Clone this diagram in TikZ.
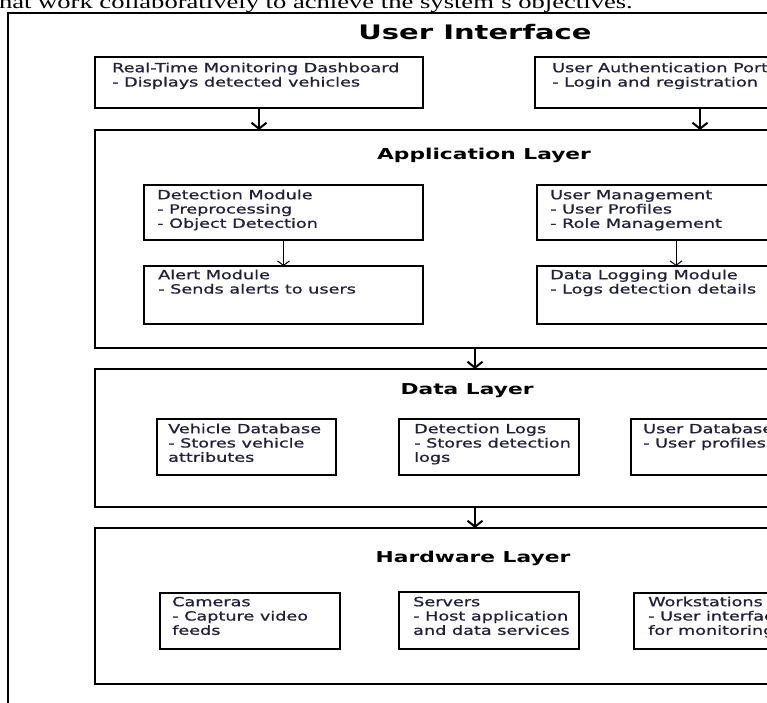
\documentclass[tikz,border=0pt]{standalone}
\usepackage{fontspec}
\setmainfont{DejaVu Sans}[FakeStretch=1.4, FakeBold=1]
\newfontfamily\headfont{DejaVu Sans}[FakeStretch=1.45]
\newfontfamily\prosefont{Liberation Serif}[FakeStretch=1.4]
\usetikzlibrary{arrows.meta,calc}
\definecolor{ink}{RGB}{32,32,58}
% invisible strut: fixes the top of a text block 10pt above its first baseline
\newcommand\capstrut{\rule{0pt}{10pt}}

\begin{document}
\begin{tikzpicture}[x=1pt,y=-1pt,
  outerframe/.style={draw, line width=2.4pt, anchor=north west, inner sep=0pt, outer sep=0pt},
  layerbox/.style={draw, line width=2.2pt, anchor=north west, inner sep=0pt, outer sep=0pt, minimum width=760pt},
  topbox/.style={draw, line width=2pt, anchor=north west, inner sep=0pt, outer sep=0pt, minimum height=51pt},
  module/.style={draw, line width=1.2pt, anchor=north west, inner sep=0pt, outer sep=0pt},
  boxtext/.style={anchor=north west, align=left, inner sep=0pt, text=ink, font=\fontsize{12.6pt}{14.3pt}\selectfont},
  layertitle/.style={anchor=base, inner sep=0pt, font=\headfont\bfseries\fontsize{15pt}{18pt}\selectfont},
  bigflow/.style={line width=2pt, -{Straight Barb[length=6pt,width=15pt]}},
  smallflow/.style={line width=1pt, -{Straight Barb[length=4.5pt,width=12pt]}},
]
\useasboundingbox (0,0) rectangle (767,702);
\clip (0,0) rectangle (767,702);

% line of running text above the figure
\node[anchor=base east, inner sep=0pt, font=\prosefont\fontsize{19pt}{22pt}\selectfont] (intro) at (633,8)
  {that work collaboratively to achieve the system’s objectives.};

% outer frame
\node[outerframe, minimum width=900pt, minimum height=800pt] (outer) at (8,13) {};
\node[anchor=base, inner sep=0pt, font=\headfont\bfseries\fontsize{20pt}{24pt}\selectfont] (uititle) at (475,39) {User Interface};

% user interface
\node[topbox, minimum width=328pt] (dash) at (95,57) {};
\node[boxtext] (dash-t) at (112,62) {\capstrut Real-Time Monitoring Dashboard\\- Displays detected vehicles};
\node[topbox, minimum width=330pt] (uap) at (535,57) {};
\node[boxtext] (uap-t) at (552,62) {\capstrut User Authentication Portal\\- Login and registration};

% application layer
\node[layerbox, minimum height=218pt] (app) at (95,130) {};
\node[layertitle] (app-title) at (484,159) {Application Layer};
\node[module, minimum width=279pt, minimum height=55pt] (det) at (144,185) {};
\node[boxtext] (det-t) at (157,189) {\capstrut Detection Module\\- Preprocessing\\- Object Detection};
\node[module, minimum width=279pt, minimum height=58pt] (alert) at (144,266) {};
\node[boxtext] (alert-t) at (158,269) {\capstrut Alert Module\\- Sends alerts to users};
\node[module, minimum width=278pt, minimum height=55pt] (users) at (537,185) {};
\node[boxtext] (users-t) at (550,189) {\capstrut User Management\\- User Profiles\\- Role Management};
\node[module, minimum width=278pt, minimum height=58pt] (logging) at (537,266) {};
\node[boxtext] (logging-t) at (550,269) {\capstrut Data Logging Module\\- Logs detection details};

% data layer
\node[layerbox, minimum height=138pt] (data) at (95,369) {};
\node[layertitle] (data-title) at (467,394) {Data Layer};
\node[module, minimum width=179pt, minimum height=56pt] (vdb) at (157,419) {};
\node[boxtext] (vdb-t) at (168,423) {\capstrut Vehicle Database\\- Stores vehicle\\attributes};
\node[module, minimum width=180pt, minimum height=56pt] (dlogs) at (399,419) {};
\node[boxtext] (dlogs-t) at (414,423) {\capstrut Detection Logs\\- Stores detection\\logs};
\node[module, minimum width=180pt, minimum height=56pt] (udb) at (631,419) {};
\node[boxtext] (udb-t) at (643,423) {\capstrut User Database\\- User profiles};

% hardware layer
\node[layerbox, minimum height=156pt] (hw) at (95,528) {};
\node[layertitle] (hw-title) at (473,562) {Hardware Layer};
\node[module, minimum width=180pt, minimum height=56pt] (cam) at (160,593) {};
\node[boxtext] (cam-t) at (172,596) {\capstrut Cameras\\- Capture video\\feeds};
\node[module, minimum width=180pt, minimum height=57pt] (srv) at (399,592) {};
\node[boxtext] (srv-t) at (413,596) {\capstrut Servers\\- Host application\\and data services};
\node[module, minimum width=180pt, minimum height=56pt] (ws) at (634,593) {};
\node[boxtext] (ws-t) at (648,596) {\capstrut Workstations\\- User interface\\for monitoring};

% flows
\draw[bigflow] (dash.south) -- (dash.south |- app.north);
\draw[bigflow] (uap.south) -- (uap.south |- app.north);
\draw[smallflow] (det.south) -- (alert.north);
\draw[smallflow] (users.south) -- (logging.north);
\draw[bigflow] (app.south) -- (data.north);
\draw[bigflow] (data.south) -- (hw.north);
\end{tikzpicture}
\end{document}
